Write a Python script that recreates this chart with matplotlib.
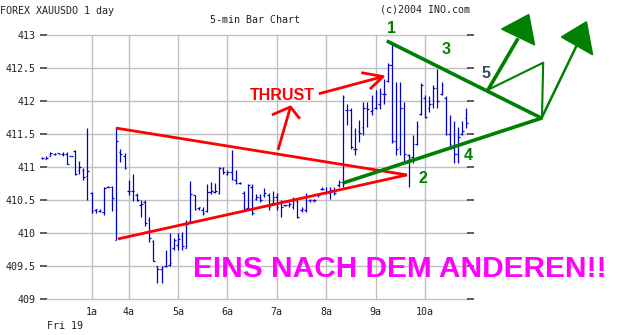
import matplotlib
matplotlib.use("Agg")
import matplotlib.pyplot as plt
import numpy as np

# 5-min OHLC bars (x = bar index, first bar sits just left of the frame)
highs = [411.15, 411.16, 411.22, 411.21, 411.21, 411.22, 411.22, 411.17, 411.26, 411.09,
         410.99, 411.59, 410.62, 410.37, 410.37, 410.69, 410.71, 410.71, 411.59, 411.28,
         411.21, 410.80, 410.90, 410.60, 410.50, 410.50, 410.24, 409.90, 409.50, 409.50,
         409.74, 410.00, 409.93, 410.00, 410.02, 410.20, 410.79, 410.58, 410.40, 410.39,
         410.74, 410.78, 410.76, 411.00, 411.00, 410.95, 411.26, 410.96, 410.77, 410.63,
         410.75, 410.75, 410.59, 410.59, 410.68, 410.60, 410.63, 410.60, 410.50, 410.43,
         410.47, 410.55, 410.50, 410.40, 410.60, 410.52, 410.52, 410.60, 410.69, 410.70,
         410.70, 410.70, 410.80, 412.09, 411.96, 411.89, 411.59, 411.71, 411.99, 411.99,
         412.09, 412.17, 412.19, 412.34, 412.57, 412.90, 412.29, 412.29, 411.99, 411.20,
         411.48, 411.70, 412.28, 412.09, 412.08, 412.24, 412.49, 412.29, 412.08, 411.79,
         411.70, 411.61, 411.70, 411.89]
lows = [411.12, 411.12, 411.16, 411.18, 411.19, 411.17, 411.04, 411.16, 410.88, 410.89,
        410.80, 410.50, 410.31, 410.31, 410.32, 410.28, 410.69, 410.33, 409.89, 411.08,
        410.97, 410.58, 410.49, 410.49, 410.24, 410.10, 409.87, 409.57, 409.24, 409.24,
        409.48, 409.50, 409.75, 409.75, 409.74, 409.77, 410.16, 410.35, 410.35, 410.27,
        410.32, 410.59, 410.60, 410.59, 410.90, 410.88, 410.80, 410.74, 410.74, 410.35,
        410.35, 410.27, 410.50, 410.47, 410.55, 410.35, 410.42, 410.35, 410.24, 410.41,
        410.40, 410.37, 410.22, 410.32, 410.32, 410.47, 410.47, 410.55, 410.65, 410.59,
        410.52, 410.58, 410.70, 410.70, 411.64, 411.28, 411.18, 411.38, 411.48, 411.61,
        411.79, 411.88, 411.88, 411.96, 412.29, 411.36, 411.18, 411.18, 411.06, 410.70,
        411.06, 411.33, 411.79, 411.74, 411.84, 411.89, 411.89, 412.09, 411.48, 411.28,
        411.06, 411.06, 411.48, 411.59]
opens = [411.13, 411.12, 411.16, 411.20, 411.21, 411.20, 411.19, 411.16, 411.24, 410.95,
         410.95, 410.87, 410.60, 410.35, 410.34, 410.32, 410.70, 410.69, 409.90, 411.22,
         411.17, 410.63, 410.64, 410.58, 410.42, 410.47, 410.20, 409.88, 409.50, 409.45,
         409.50, 409.52, 409.77, 409.82, 409.95, 409.78, 410.18, 410.57, 410.38, 410.35,
         410.33, 410.62, 410.62, 410.60, 410.97, 410.90, 410.92, 410.80, 410.76, 410.60,
         410.38, 410.70, 410.52, 410.55, 410.58, 410.58, 410.45, 410.55, 410.45, 410.42,
         410.43, 410.40, 410.48, 410.35, 410.35, 410.50, 410.50, 410.57, 410.66, 410.60,
         410.60, 410.63, 410.72, 410.78, 411.86, 411.86, 411.28, 411.55, 411.60, 411.90,
         411.85, 411.90, 411.95, 412.10, 412.30, 412.55, 411.40, 411.30, 411.90, 411.18,
         411.15, 411.35, 411.80, 412.05, 411.90, 411.95, 412.20, 412.10, 412.05, 411.50,
         411.30, 411.20, 411.50, 411.75]
closes = [411.13, 411.13, 411.21, 411.20, 411.19, 411.19, 411.04, 411.17, 410.89, 411.00,
          410.85, 410.94, 410.33, 410.36, 410.34, 410.68, 410.70, 410.53, 411.39, 411.20,
          410.99, 410.63, 410.63, 410.50, 410.44, 410.15, 409.92, 409.57, 409.45, 409.48,
          409.50, 409.55, 409.90, 409.91, 409.80, 410.14, 410.59, 410.37, 410.39, 410.30,
          410.62, 410.63, 410.63, 410.99, 410.92, 410.92, 410.82, 410.76, 410.76, 410.37,
          410.73, 410.30, 410.55, 410.50, 410.60, 410.40, 410.55, 410.40, 410.40, 410.42,
          410.44, 410.50, 410.25, 410.37, 410.55, 410.50, 410.50, 410.58, 410.67, 410.62,
          410.65, 410.60, 410.78, 412.06, 411.86, 411.30, 411.28, 411.52, 411.90, 411.88,
          411.87, 411.90, 412.12, 412.10, 412.55, 411.40, 411.28, 411.90, 411.20, 411.15,
          411.35, 411.62, 412.25, 411.76, 411.95, 412.20, 412.00, 412.25, 411.50, 411.35,
          411.20, 411.45, 411.55, 411.66]
bar_x = np.arange(len(highs)) - 1

hour_pos = [11, 20, 32, 44, 56, 68, 80, 92]
hour_labels = ["1a", "4a", "5a", "6a", "7a", "8a", "9a", "10a"]
price_ticks = [409, 409.5, 410, 410.5, 411, 411.5, 412, 412.5, 413]
price_labels = ["409", "409.5", "410", "410.5", "411", "411.5", "412", "412.5", "413"]

# hand-drawn annotations, in (bar index, price)
red_upper_x, red_upper_y = [16.9, 87.6], [411.59, 410.88]
red_lower_x, red_lower_y = [17.4, 87.6], [409.91, 410.88]
thrust_right_x, thrust_right_y = [66.2, 81.8], [412.11, 412.37]
thrust_right_head_x, thrust_right_head_y = [76.5, 81.8, 78.6], [412.43, 412.37, 412.18]
thrust_up_x, thrust_up_y = [56.3, 59.3], [411.26, 411.91]
thrust_up_head_x, thrust_up_head_y = [54.8, 59.3, 61.6], [411.79, 411.91, 411.73]

green_upper_x, green_upper_y = [82.7, 120.3], [412.91, 411.74]
green_lower_x, green_lower_y = [72.2, 120.3], [410.76, 411.74]
green_flag_x, green_flag_y = [107.3, 120.7, 120.4], [412.17, 412.58, 411.74]
arrow1_x, arrow1_y = [107.3, 114.6], [412.17, 412.95]
head1_x, head1_y = [110.6, 117.2, 118.6], [413.09, 413.31, 412.85]
arrow2_x, arrow2_y = [120.3, 128.9], [411.74, 412.85]
head2_x, head2_y = [125.1, 131.2, 132.7], [412.97, 413.20, 412.70]

wave_labels = ["1", "2", "3", "4", "5"]
wave_x = [83.9, 91.6, 97.1, 102.4, 106.9]
wave_y = [413.03, 410.76, 412.71, 411.10, 412.35]
wave_colors = ["#008000", "#008000", "#008000", "#008000", "#2F4F4F"]

blue = "#0000CC"
red = "#FF0000"
green = "#008000"
mono = "DejaVu Sans Mono"

fig = plt.figure(figsize=(6.28, 3.35), dpi=100)
ax = fig.add_axes([47 / 628, 36 / 335, 420 / 628, 264 / 335])
ax.set_xlim(0.17, 102.19)
ax.set_ylim(409, 413)
for s in ax.spines.values():
    s.set_visible(False)

ax.set_xticks(hour_pos)
ax.set_xticklabels(hour_labels, fontfamily=mono, fontsize=7.2, color="#222222")
ax.set_yticks(price_ticks)
ax.set_yticklabels(price_labels, fontfamily=mono, fontsize=7.2, color="#222222")
ax.tick_params(axis="x", length=0, pad=6)
ax.tick_params(axis="y", direction="out", length=5, width=1.1, color="#333333",
               pad=3, right=True)
ax.grid(True, color="#C0C0C0", linewidth=1.0)
for gl in ax.get_ygridlines():
    gl.set_clip_on(False)
ax.set_axisbelow(True)

# OHLC bars
ax.vlines(bar_x, lows, highs, color=blue, linewidth=0.9, clip_on=False)
ax.hlines(opens, bar_x - 0.4, bar_x, color=blue, linewidth=0.9, clip_on=False)
ax.hlines(closes, bar_x, bar_x + 0.4, color=blue, linewidth=0.9, clip_on=False)

# red triangle and thrust arrows
kw_red = dict(color=red, linewidth=2.0, clip_on=False, solid_capstyle="butt")
ax.plot(red_upper_x, red_upper_y, **kw_red)
ax.plot(red_lower_x, red_lower_y, **kw_red)
ax.plot(thrust_right_x, thrust_right_y, **kw_red)
ax.plot(thrust_right_head_x, thrust_right_head_y, **kw_red)
ax.plot(thrust_up_x, thrust_up_y, **kw_red)
ax.plot(thrust_up_head_x, thrust_up_head_y, **kw_red)
ax.text(49.5, 412.02, "THRUST", color=red, fontfamily="Liberation Sans",
        fontweight="bold", fontsize=11.5, va="baseline", ha="left")

# green wedge and target arrows
kw_green = dict(color=green, linewidth=2.6, clip_on=False, solid_capstyle="butt")
ax.plot(green_upper_x, green_upper_y, **kw_green)
ax.plot(green_lower_x, green_lower_y, **kw_green)
ax.plot(green_flag_x, green_flag_y, color=green, linewidth=1.5, clip_on=False)
ax.plot(arrow1_x, arrow1_y, **kw_green)
ax.plot(arrow2_x, arrow2_y, color=green, linewidth=1.8, clip_on=False)
ax.fill(head1_x, head1_y, color=green, clip_on=False)
ax.fill(head2_x, head2_y, color=green, clip_on=False)

for lab, x, y, c in zip(wave_labels, wave_x, wave_y, wave_colors):
    ax.text(x, y, lab, color=c, fontfamily="Liberation Sans", fontweight="bold",
            fontsize=11.5, ha="center", va="baseline")

ax.text(35.6, 409.33, "EINS NACH DEM ANDEREN!!", color="#FF00FF",
        fontfamily="Liberation Sans", fontweight="bold", fontsize=21.5,
        ha="left", va="baseline")

# header and footer texts
fig.text(0 / 628, 1 - 11 / 335, "FOREX XAUUSDO 1 day", fontfamily=mono, fontsize=7.2,
         color="#222222", va="center", ha="left")
fig.text(210 / 628, 1 - 20 / 335, "5-min Bar Chart", fontfamily=mono, fontsize=7.2,
         color="#222222", va="center", ha="left")
fig.text(380 / 628, 1 - 10 / 335, "(c)2004 INO.com", fontfamily=mono, fontsize=7.2,
         color="#222222", va="center", ha="left")
fig.text(47 / 628, 1 - 326 / 335, "Fri 19", fontfamily=mono, fontsize=7.2,
         color="#222222", va="center", ha="left")

fig.savefig("out.png", dpi=100, facecolor="white")
